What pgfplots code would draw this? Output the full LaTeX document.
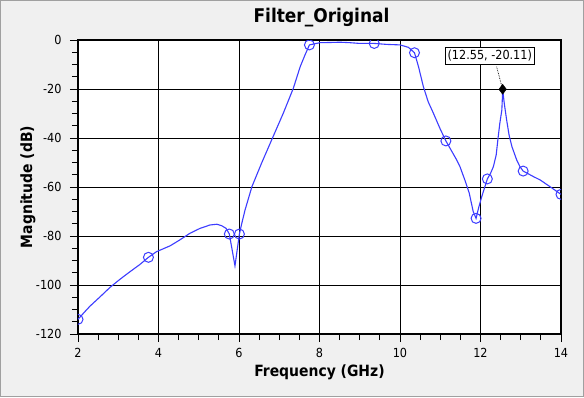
\documentclass[border=0pt]{standalone}
\usepackage{pgfplots}
\pgfplotsset{compat=1.18}
\usepackage{fontspec}
\setmainfont{DejaVu Sans Condensed}
\definecolor{bgc}{HTML}{F0F0F0}
\definecolor{frm}{HTML}{A0A0A0}
\definecolor{trace}{RGB}{60,60,255}
\begin{document}
\begin{tikzpicture}
\path[use as bounding box] (-78pt,-63pt) rectangle (506pt,334pt);
\fill[bgc] (-78pt,-63pt) rectangle (506pt,334pt);
\draw[frm, line width=1pt] (-77.5pt,-62.5pt) rectangle (505.5pt,333.5pt);
\begin{axis}[
  scale only axis,
  width=483pt, height=294pt,
  xmin=2, xmax=14, ymin=-120, ymax=0,
  xtick={2,4,...,14}, ytick={-120,-100,...,0},
  minor x tick num=3, minor y tick num=3,
  tick align=outside, tick pos=left,
  major tick length=8pt, minor tick length=6pt,
  grid=major,
  major grid style={black, line width=0.8pt},
  axis line style={black, line width=1.2pt},
  every tick/.style={black, line width=0.8pt},
  axis background/.style={fill=white},
  /pgf/number format/assume math mode=true,
  ticklabel style={font=\fontsize{12.5}{14}\selectfont},
  xticklabel style={yshift=-3pt},
  yticklabel style={xshift=-5pt},
  clip marker paths=true,
]
\addplot[trace, line width=1.1pt, mark=none] coordinates {
(2.0,-114.0) (2.17,-110.9) (2.30,-108.6) (2.55,-104.8) (2.80,-100.9)
(3.04,-97.7) (3.29,-94.6) (3.54,-91.6) (3.75,-88.7) (3.95,-86.4)
(4.29,-84.0) (4.53,-81.6) (4.78,-78.9) (5.03,-76.9) (5.28,-75.5)
(5.45,-75.2) (5.57,-75.8) (5.68,-76.9) (5.76,-79.2) (5.9,-92.2)
(6.01,-79.2) (6.07,-74.8) (6.15,-69.4) (6.32,-59.9) (6.56,-50.3)
(6.84,-39.7) (7.10,-29.9) (7.35,-19.7) (7.52,-10.9) (7.64,-6.1)
(7.75,-2.0) (8.01,-1.1) (8.3,-1.0) (8.51,-0.9) (8.76,-1.1)
(9.0,-1.4) (9.36,-1.4) (9.67,-1.8) (10.0,-2.0) (10.21,-3.0)
(10.36,-5.2) (10.46,-10.9) (10.58,-19.0) (10.70,-25.2) (10.83,-29.9)
(10.99,-36.0) (11.14,-41.2) (11.41,-49.0) (11.49,-51.7) (11.61,-57.1)
(11.72,-62.5) (11.82,-70.1) (11.89,-72.8) (11.95,-68.7) (12.03,-64.0)
(12.17,-56.7) (12.25,-54.4) (12.32,-51.7) (12.39,-46.9) (12.44,-39.5)
(12.48,-34.0) (12.53,-28.6) (12.545,-23.1) (12.55,-20.11) (12.59,-25.8)
(12.65,-32.7) (12.71,-38.8) (12.78,-43.5) (12.9,-49.0) (12.98,-51.7)
(13.06,-53.5) (13.32,-55.8) (13.48,-57.1) (13.73,-59.9) (14.0,-63.0)
};
\addplot[trace, line width=1pt, only marks, mark=o, mark size=5pt, mark options={fill=white}] coordinates {
(2.0,-114.0) (3.75,-88.7) (5.76,-79.2) (6.01,-79.2) (7.75,-2.0) (9.36,-1.4)
(10.36,-5.2) (11.14,-41.2) (11.89,-72.8) (12.17,-56.7) (13.06,-53.5) (14.0,-63.0)
};
\addplot[black, line width=0.7pt, densely dotted, mark=none] coordinates {(12.40,-10.9) (12.55,-20.11)};
\addplot[black, only marks, mark=diamond*, mark size=5pt] coordinates {(12.55,-20.11)};
\node[draw=black, fill=white, line width=0.8pt, inner sep=2.5pt, font=\fontsize{12.5}{14}\selectfont] at (axis cs:12.23,-6.5) {(12.55, -20.11)};
\end{axis}
\node[font=\fontsize{18.9}{21}\selectfont\bfseries] at (243.5pt,316pt) {Filter\_Original};
\node[font=\fontsize{15.5}{18}\selectfont\bfseries] at (241.5pt,-38pt) {Frequency (GHz)};
\node[font=\fontsize{15.5}{18}\selectfont\bfseries, rotate=90] at (-50pt,147pt) {Magnitude (dB)};
\end{tikzpicture}
\end{document}
